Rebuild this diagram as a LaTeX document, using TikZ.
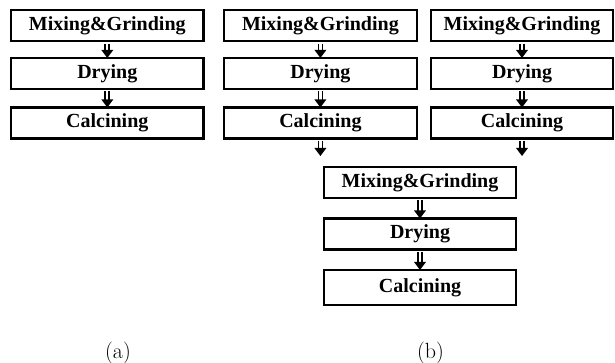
\documentclass[tikz,border=0pt]{standalone}
\usepackage{fontspec}
\newfontfamily\tnr{Liberation Serif}
\begin{document}
\begin{tikzpicture}[x=1pt,y=1pt,
  stepbox/.style={draw=black, line width=2.3pt, inner sep=0pt,
    minimum height=31pt, font=\tnr\bfseries\fontsize{20}{22}\selectfont},
  shaft/.style={draw=black, double=white, line width=1.8pt, double distance=2.2pt, shorten >=6pt, shorten <=1.1pt},
  head/.style={fill=black},
  lbl/.style={font=\fontsize{22}{24}\selectfont}
]
\useasboundingbox (0,0) rectangle (615,363);
% panel (a)
\node[stepbox, minimum width=192.5pt] (a1) at (107.3,337.2) {Mixing\&Grinding};
\node[stepbox, minimum width=192.5pt] (a2) at (107.3,289.5) {Drying};
\node[stepbox, minimum width=192.5pt] (a3) at (107.3,240) {Calcining};
% panel (b), left column
\node[stepbox, minimum width=193pt] (l1) at (320.4,337.2) {Mixing\&Grinding};
\node[stepbox, minimum width=193pt] (l2) at (320.4,289.5) {Drying};
\node[stepbox, minimum width=193pt] (l3) at (320.4,240) {Calcining};
% panel (b), right column
\node[stepbox, minimum width=182pt] (r1) at (522,337.2) {Mixing\&Grinding};
\node[stepbox, minimum width=182pt] (r2) at (522,289.5) {Drying};
\node[stepbox, minimum width=182pt] (r3) at (522,240) {Calcining};
% panel (b), bottom column
\node[stepbox, minimum width=192pt] (c1) at (420,180.5) {Mixing\&Grinding};
\node[stepbox, minimum width=192pt] (c2) at (420,129) {Drying};
\node[stepbox, minimum width=192pt, minimum height=35pt] (c3) at (420,75.5) {Calcining};
% free ends
\coordinate (le) at (320.4,207);
\coordinate (re) at (522,207);
% arrows
\foreach \s/\t in {a1/a2, a2/a3, l1/l2, l2/l3, r1/r2, r2/r3, c1/c2, c2/c3}{
  \draw[shaft] (\s.south) -- (\t.north);
  \fill[head] ([yshift=-1.1pt]\t.north) -- ++(-6,8) -- ++(12,0) -- cycle;
}
\foreach \s/\t in {l3/le, r3/re}{
  \draw[shaft] (\s.south) -- (\t);
  \fill[head] (\t) -- ++(-6,8) -- ++(12,0) -- cycle;
}
% labels
\node[lbl] (la) at (118,9.5) {(a)};
\node[lbl] (lb) at (430.5,9.5) {(b)};
\end{tikzpicture}
\end{document}
